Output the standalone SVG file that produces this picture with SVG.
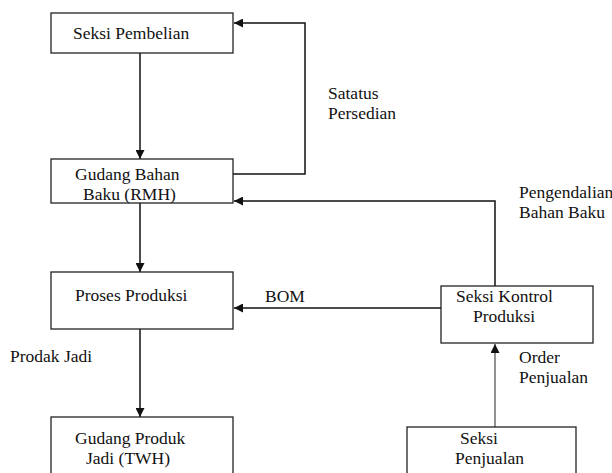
<svg xmlns="http://www.w3.org/2000/svg" width="612" height="473" viewBox="0 0 612 473">
<style>
.box{fill:#fff;stroke:#222;stroke-width:1.3}
.t{font-family:"Liberation Serif","Times New Roman",serif;font-size:17.5px;fill:#111}
.c{fill:none;stroke:#111;stroke-width:1.5}
.g{fill:none;stroke:#777;stroke-width:1.6}
</style>
<defs>
<marker id="ah" viewBox="0 0 10 10" refX="10" refY="5" markerWidth="10" markerHeight="9" markerUnits="userSpaceOnUse" orient="auto">
<path d="M0,0 L10,5 L0,10 z" fill="#111"/>
</marker>
</defs>
<rect width="612" height="473" fill="#fff"/>
<g id="connectors">
<line class="c" x1="140" y1="53" x2="140" y2="159" marker-end="url(#ah)"/>
<line class="c" x1="140" y1="203" x2="140" y2="272" marker-end="url(#ah)"/>
<line class="c" x1="140" y1="329" x2="140" y2="417" marker-end="url(#ah)"/>
<polyline class="c" points="233,174 305,174 305,23 234,23" marker-end="url(#ah)"/>
<polyline class="c" points="495,286 495,201 234,201" marker-end="url(#ah)"/>
<line class="c" x1="441" y1="308" x2="234" y2="308" marker-end="url(#ah)"/>
<line class="g" x1="495" y1="427" x2="495" y2="344" marker-end="url(#ah)"/>
<text class="t" x="328" y="99">Satatus</text>
<text class="t" x="328" y="119">Persedian</text>
<text class="t" x="519" y="198">Pengendalian</text>
<text class="t" x="519" y="218">Bahan Baku</text>
<text class="t" x="265" y="302">BOM</text>
<text class="t" x="10" y="362">Prodak Jadi</text>
<text class="t" x="519" y="363">Order</text>
<text class="t" x="519" y="383">Penjualan</text>
</g>
<g id="seksi-pembelian">
<rect class="box" x="51" y="13" width="182" height="40"/>
<text class="t" x="73" y="39">Seksi Pembelian</text>
</g>
<g id="gudang-bahan-baku">
<rect class="box" x="51" y="159" width="182" height="44"/>
<text class="t" x="75" y="180">Gudang Bahan</text>
<text class="t" x="83" y="200">Baku (RMH)</text>
</g>
<g id="proses-produksi">
<rect class="box" x="51" y="272" width="182" height="57"/>
<text class="t" x="75" y="301">Proses Produksi</text>
</g>
<g id="gudang-produk-jadi">
<rect class="box" x="51" y="417" width="182" height="70"/>
<text class="t" x="75" y="444">Gudang Produk</text>
<text class="t" x="86" y="464">Jadi (TWH)</text>
</g>
<g id="seksi-kontrol-produksi">
<rect class="box" x="441" y="286" width="152" height="57"/>
<text class="t" x="456" y="302">Seksi Kontrol</text>
<text class="t" x="473" y="322">Produksi</text>
</g>
<g id="seksi-penjualan">
<rect class="box" x="407" y="427" width="169" height="60"/>
<text class="t" x="460" y="444">Seksi</text>
<text class="t" x="455" y="464">Penjualan</text>
</g>
</svg>
